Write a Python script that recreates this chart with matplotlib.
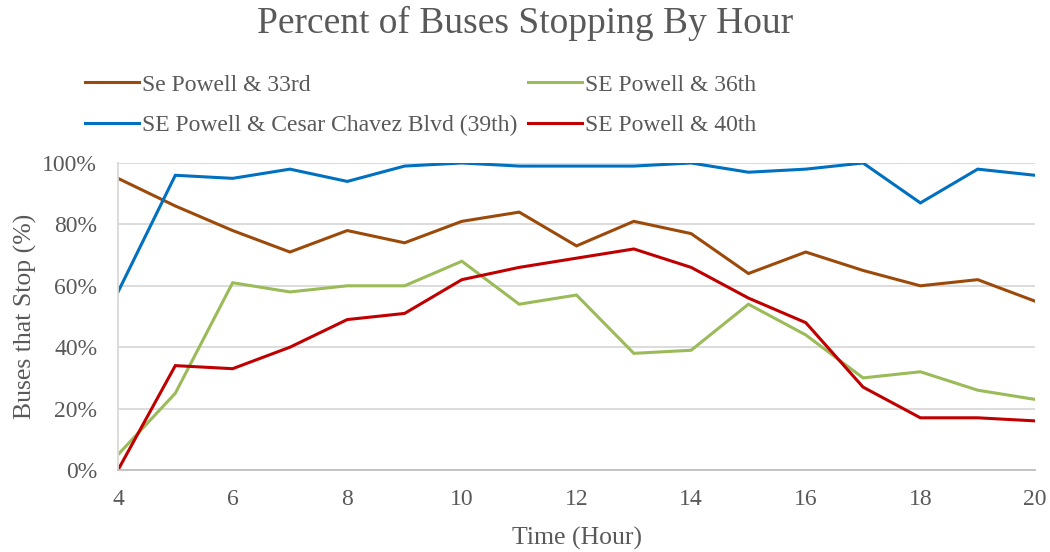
import matplotlib
matplotlib.use("Agg")
import matplotlib.pyplot as plt
from matplotlib.ticker import PercentFormatter

hours = list(range(4, 21))
s33 = [95, 86, 78, 71, 78, 74, 81, 84, 73, 81, 77, 64, 71, 65, 60, 62, 55]
s36 = [5, 25, 61, 58, 60, 60, 68, 54, 57, 38, 39, 54, 44, 30, 32, 26, 23]
s39 = [58, 96, 95, 98, 94, 99, 100, 99, 99, 99, 100, 97, 98, 100, 87, 98, 96]
s40 = [0, 34, 33, 40, 49, 51, 62, 66, 69, 72, 66, 56, 48, 27, 17, 17, 16]
labels = ["Se Powell & 33rd", "SE Powell & 36th",
          "SE Powell & Cesar Chavez Blvd (39th)", "SE Powell & 40th"]
colors = ["#9C4A0A", "#9BBB59", "#0070C0", "#C00000"]

plt.rcParams['font.family'] = ['Liberation Serif', 'DejaVu Serif']
txt = "#595959"

fig = plt.figure(figsize=(10.5, 5.52), dpi=100)
ax = fig.add_axes([118/1050, 1-470/552, (1035-118)/1050, (470-163)/552])

lines = []
for vals, c, lab in zip([s33, s36, s39, s40], colors, labels):
    l, = ax.plot(hours, vals, color=c, lw=2.2, label=lab, solid_joinstyle='miter')
    lines.append(l)

ax.set_xlim(4, 20)
ax.set_ylim(0, 100)
ax.set_xticks(range(4, 21, 2))
ax.set_yticks(range(0, 101, 20))
ax.yaxis.set_major_formatter(PercentFormatter(decimals=0))
ax.grid(axis='y', color='#d9d9d9', lw=1.3)
ax.set_axisbelow(True)
for s in ['top', 'right']:
    ax.spines[s].set_visible(False)
ax.spines['left'].set_color('#d9d9d9')
ax.spines['left'].set_linewidth(1.3)
ax.spines['bottom'].set_color('#bfbfbf')
ax.spines['bottom'].set_linewidth(1.3)
ax.tick_params(length=0, labelsize=17, colors=txt)
ax.tick_params(axis='x', pad=14)
ax.tick_params(axis='y', pad=15)

ax.set_xlabel("Time (Hour)", fontsize=18.5, color=txt, labelpad=12)
ax.set_ylabel("Buses that Stop (%)", fontsize=18.5, color=txt, labelpad=4)

fig.text(0.5, 1-23/552, "Percent of Buses Stopping By Hour", ha='center', va='center',
         fontsize=27, color=txt)

order = [0, 2, 1, 3]
leg = fig.legend([lines[i] for i in order], [labels[i] for i in order], ncol=2,
                 loc='upper left', bbox_to_anchor=(85/1050, 1-74/552),
                 frameon=False, fontsize=17, handlelength=2.3, handletextpad=0.12,
                 columnspacing=0.45, labelspacing=0.82, borderaxespad=0, borderpad=0)
for t in leg.get_texts():
    t.set_color(txt)

fig.savefig("out.png", dpi=100)
